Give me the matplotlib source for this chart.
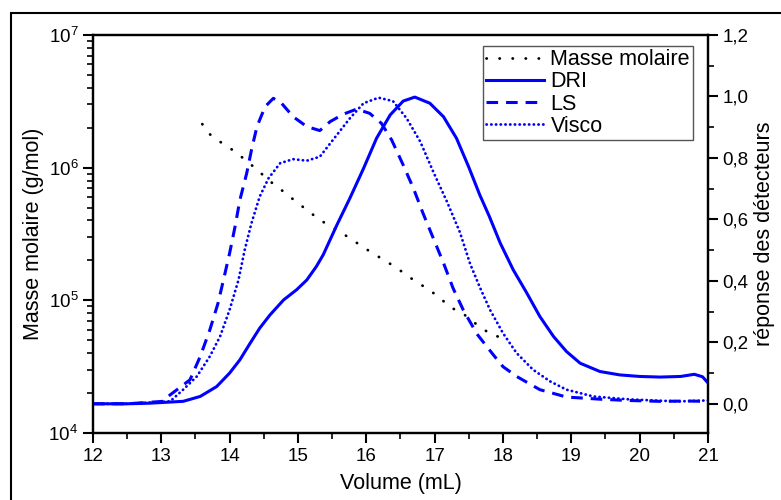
import matplotlib
matplotlib.use("Agg")
from matplotlib import pyplot as plt
from matplotlib.patches import Rectangle
from matplotlib.ticker import MultipleLocator, LogLocator, FuncFormatter

plt.rcParams['font.family'] = ['Liberation Sans', 'DejaVu Sans']
plt.rcParams['mathtext.fontset'] = 'custom'
plt.rcParams['mathtext.rm'] = 'Liberation Sans'

# Masse molaire (g/mol) vs volume (mL)
mm_vol = [13.60, 13.69, 13.83, 13.96, 14.12, 14.29, 14.45, 14.60, 14.79, 14.96, 15.13,
          15.31, 15.48, 15.65, 15.82, 16.00, 16.18, 16.36, 16.54, 16.71, 16.91, 17.07,
          17.23, 17.40, 17.56, 17.72, 17.83, 17.98]
mm_val = [2.13e6, 1.82e6, 1.60e6, 1.46e6, 1.27e6, 1.08e6, 9.16e5, 7.83e5, 6.59e5, 5.61e5,
          4.80e5, 4.08e5, 3.59e5, 3.20e5, 2.80e5, 2.43e5, 2.13e5, 1.87e5, 1.62e5, 1.40e5,
          1.21e5, 1.05e5, 8.85e4, 8.07e4, 6.90e4, 6.05e4, 5.48e4, 5.26e4]

# DRI
dri_vol = [12.0, 12.5, 12.83, 13.32, 13.57, 13.81, 14.00, 14.15, 14.30, 14.44, 14.59, 14.79,
           14.98, 15.13, 15.27, 15.37, 15.57, 15.76, 15.96, 16.15, 16.35, 16.54, 16.71,
           16.93, 17.13, 17.32, 17.50, 17.66, 17.80, 17.96, 18.15, 18.35, 18.54, 18.74,
           18.93, 19.13, 19.42, 19.71, 20.00, 20.30, 20.60, 20.80, 20.92, 21.0]
dri_val = [0.0, 0.0, 0.002, 0.008, 0.024, 0.056, 0.100, 0.143, 0.197, 0.246, 0.289, 0.338,
           0.371, 0.403, 0.447, 0.485, 0.582, 0.669, 0.766, 0.864, 0.940, 0.985, 0.998,
           0.978, 0.934, 0.864, 0.770, 0.680, 0.610, 0.523, 0.436, 0.360, 0.284, 0.219,
           0.170, 0.132, 0.105, 0.094, 0.089, 0.087, 0.089, 0.096, 0.088, 0.068]

# LS
ls_vol = [12.0, 12.5, 13.03, 13.10, 13.42, 13.57, 13.71, 13.83, 13.91, 14.00, 14.08, 14.15,
          14.25, 14.32, 14.40, 14.52, 14.64, 14.76, 14.93, 15.13, 15.32, 15.47, 15.66,
          15.86, 16.05, 16.22, 16.37, 16.54, 16.69, 16.83, 16.98, 17.13, 17.27, 17.42,
          17.62, 17.86, 18.00, 18.20, 18.54, 18.93, 19.42, 19.81, 20.30, 20.70, 21.0]
ls_val = [0.0, 0.0, 0.008, 0.024, 0.078, 0.154, 0.240, 0.327, 0.403, 0.490, 0.577, 0.663,
          0.750, 0.826, 0.902, 0.967, 0.994, 0.978, 0.934, 0.902, 0.889, 0.918, 0.942,
          0.959, 0.945, 0.913, 0.859, 0.777, 0.701, 0.620, 0.539, 0.458, 0.376, 0.305,
          0.227, 0.159, 0.121, 0.089, 0.046, 0.022, 0.015, 0.011, 0.008, 0.009, 0.008]

# Visco
vi_vol = [12.0, 12.5, 13.13, 13.32, 13.52, 13.71, 13.86, 14.00, 14.13, 14.22, 14.32, 14.44,
          14.57, 14.74, 14.93, 15.13, 15.32, 15.57, 15.76, 15.96, 16.18, 16.39, 16.59,
          16.79, 16.98, 17.18, 17.37, 17.52, 17.66, 17.81, 18.00, 18.20, 18.44, 18.69,
          18.93, 19.32, 19.81, 20.30, 20.60, 21.0]
vi_val = [0.0, 0.0, 0.008, 0.046, 0.089, 0.154, 0.219, 0.306, 0.403, 0.500, 0.588, 0.674,
          0.734, 0.783, 0.796, 0.791, 0.804, 0.875, 0.929, 0.978, 0.996, 0.985, 0.929,
          0.853, 0.755, 0.658, 0.558, 0.455, 0.380, 0.306, 0.230, 0.165, 0.111, 0.073,
          0.046, 0.024, 0.015, 0.010, 0.008, 0.011]

blue = '#0000ff'

fig = plt.figure(figsize=(7.81, 5.0), dpi=100)
ax = fig.add_axes([0.119, 0.134, 0.7875, 0.796])
ax2 = ax.twinx()

# outer frame
fig.patches.append(Rectangle((11 / 781, -0.1), 1.0, 1.1 - 13 / 500, transform=fig.transFigure,
                             fill=False, lw=1.5, edgecolor='black'))

l_mm, = ax.plot(mm_vol, mm_val, color='black', lw=2.0, linestyle=(0, (0.1, 4.6)),
                dash_capstyle='round', label='Masse molaire')
l_dri, = ax2.plot(dri_vol, dri_val, color=blue, lw=2.2, label='DRI')
l_ls, = ax2.plot(ls_vol, ls_val, color=blue, lw=2.2, linestyle=(0, (3.8, 2.6)), label='LS')
l_vi, = ax2.plot(vi_vol, vi_val, color=blue, lw=2.0, linestyle=(0, (0.1, 1.6)),
                 dash_capstyle='round', label='Visco')

ax.set_yscale('log')
ax.set_xlim(12, 21)
ax.set_ylim(1e4, 1e7)
ax2.set_ylim(-0.095, 1.2)

ax.xaxis.set_major_locator(MultipleLocator(1))
ax.xaxis.set_minor_locator(MultipleLocator(0.5))
ax.yaxis.set_major_locator(LogLocator(base=10))
ax.yaxis.set_minor_locator(LogLocator(base=10, subs=range(2, 10)))
ax2.yaxis.set_major_locator(MultipleLocator(0.2))
ax2.yaxis.set_minor_locator(MultipleLocator(0.1))
ax2.yaxis.set_major_formatter(FuncFormatter(lambda v, p: f"{v:.1f}".replace('.', ',')))

for a in (ax, ax2):
    a.tick_params(which='major', direction='out', length=7, width=1.5, labelsize=13.5)
    a.tick_params(which='minor', direction='out', length=4, width=1.2)
    for s in a.spines.values():
        s.set_linewidth(1.6)
ax.tick_params(top=False, right=False, which='both')

ax.set_xlabel('Volume (mL)', fontsize=15.5, labelpad=6)
ax.set_ylabel('Masse molaire (g/mol)', fontsize=15.5, labelpad=3)
ax2.set_ylabel('réponse des détecteurs', fontsize=15.5, labelpad=4)

leg = ax2.legend(handles=[l_mm, l_dri, l_ls, l_vi], loc='upper right',
                 bbox_to_anchor=(0.976, 0.972), fontsize=15.5, frameon=True, fancybox=False,
                 framealpha=1, edgecolor='#555555', handlelength=2.7, handletextpad=0.3,
                 labelspacing=0.05, borderpad=0.15, borderaxespad=0)
leg.get_frame().set_linewidth(1.0)

fig.savefig('out.png', dpi=100)
